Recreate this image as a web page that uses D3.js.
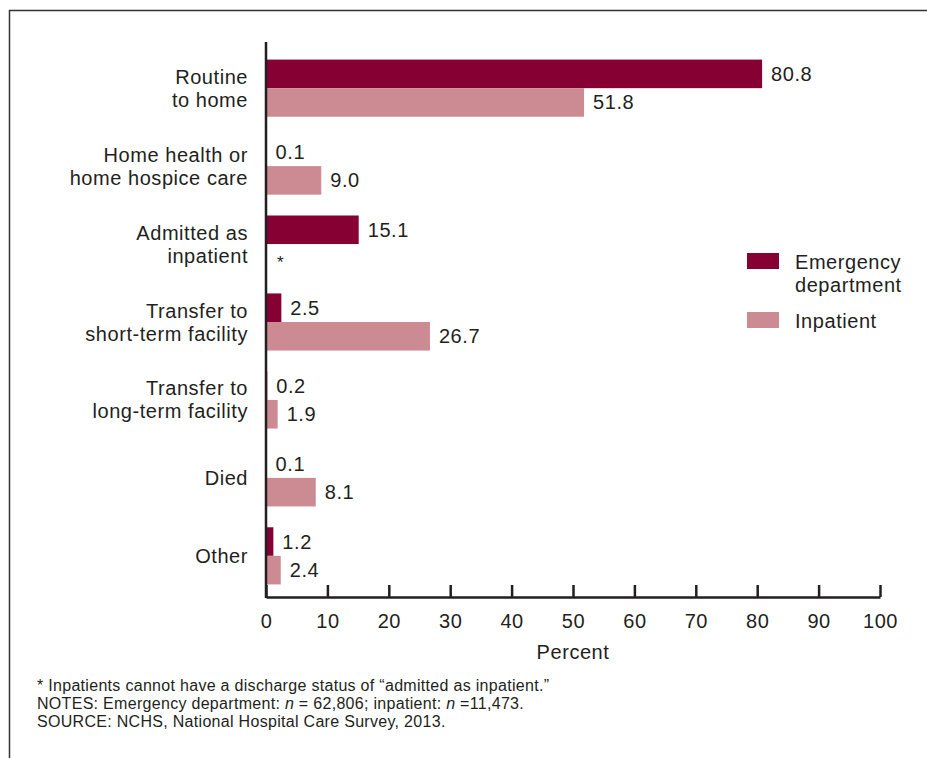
<!DOCTYPE html>
<html>
<head>
<meta charset="utf-8">
<script src="https://cdn.jsdelivr.net/npm/d3@7"></script>
<style>
  html, body { margin: 0; padding: 0; background: #fff; }
  svg { display: block; }
  text { font-family: "Liberation Sans", Arial, Helvetica, sans-serif; fill: #231f20; }
</style>
</head>
<body>
<svg id="chart" width="927" height="758"></svg>
<script>
const categories = [
  ["Routine", "to home"],
  ["Home health or", "home hospice care"],
  ["Admitted as", "inpatient"],
  ["Transfer to", "short-term facility"],
  ["Transfer to", "long-term facility"],
  ["Died"],
  ["Other"]
];
const categoryKeys = ["routine", "homehealth", "admitted", "shortterm", "longterm", "died", "other"];
const edValues = [80.8, 0.1, 15.1, 2.5, 0.2, 0.1, 1.2];
const inpatientValues = [51.8, 9.0, null, 26.7, 1.9, 8.1, 2.4];
const seriesNames = ["Emergency department", "Inpatient"];
const xTicks = [0, 10, 20, 30, 40, 50, 60, 70, 80, 90, 100];
const xTitle = "Percent";
const footnotes = [
  [{t: "* Inpatients cannot have a discharge status of \u201cadmitted as inpatient.\u201d"}],
  [{t: "NOTES: Emergency department: "}, {t: "n", i: true}, {t: " = 62,806; inpatient: "}, {t: "n", i: true}, {t: " =11,473."}],
  [{t: "SOURCE: NCHS, National Hospital Care Survey, 2013."}]
];

const colors = ["#860033", "#cc8b93"];
const ink = "#231f20";
const LS = "0.55px";

const svg = d3.select("#chart");

// frame
svg.append("path")
  .attr("d", "M9.5,1000 L9.5,10.5 L1000,10.5")
  .attr("fill", "none").attr("stroke", "#333").attr("stroke-width", 1.5);

const x = d3.scaleLinear().domain([0, 100]).range([266, 880]);
const y = d3.scaleBand().domain(categoryKeys).range([44, 600]).paddingInner(0.267).paddingOuter(0.2);
const sub = d3.scaleBand().domain([0, 1]).range([0, y.bandwidth()]);

const rows = categoryKeys.map((k, i) => ({key: k, lines: categories[i], vals: [edValues[i], inpatientValues[i]]}));

// bars
const g = svg.append("g");
rows.forEach(r => {
  r.vals.forEach((v, s) => {
    const yy = y(r.key) + sub(s);
    if (v !== null) {
      g.append("rect")
        .attr("x", x(0)).attr("y", yy)
        .attr("width", x(v) - x(0)).attr("height", sub.bandwidth())
        .attr("fill", colors[s]);
      g.append("text")
        .attr("x", x(v) + 9).attr("y", yy + sub.bandwidth() / 2)
        .attr("dy", "0.35em").attr("font-size", 20).attr("letter-spacing", LS)
        .text(d3.format(".1f")(v));
    } else {
      g.append("text")
        .attr("x", x(0) + 11).attr("y", yy + sub.bandwidth() / 2 + 4)
        .attr("dy", "0.35em").attr("font-size", 17)
        .text("*");
    }
  });
  // category label
  const cy = y(r.key) + y.bandwidth() / 2;
  const n = r.lines.length;
  const t = g.append("text").attr("text-anchor", "end").attr("font-size", 20).attr("letter-spacing", LS);
  r.lines.forEach((ln, j) => {
    t.append("tspan").attr("x", 248)
      .attr("y", cy + (j - (n - 1) / 2) * 23)
      .attr("dy", "0.35em").text(ln);
  });
});

// x axis
const xAxis = d3.axisBottom(x).tickValues(xTicks).tickSize(-12).tickSizeOuter(0).tickPadding(17).tickFormat(d3.format("d"));
const ax = svg.append("g").attr("transform", "translate(0,597)").call(xAxis);
ax.select(".domain").attr("stroke", ink).attr("stroke-width", 2.5);
ax.selectAll(".tick line").attr("stroke", ink).attr("stroke-width", 2.5);
ax.selectAll(".tick text").attr("font-size", 20).attr("fill", ink).attr("letter-spacing", LS)
  .attr("font-family", "\"Liberation Sans\", Arial, sans-serif");

// y axis line
svg.append("line").attr("x1", x(0)).attr("x2", x(0)).attr("y1", 42).attr("y2", 598)
  .attr("stroke", ink).attr("stroke-width", 2.5);

svg.append("text").attr("x", (x(0) + x(100)) / 2).attr("y", 659)
  .attr("text-anchor", "middle").attr("font-size", 20).attr("letter-spacing", LS).text(xTitle);

// legend
const lg = svg.append("g");
const legendRows = [
  {lines: ["Emergency", "department"], y: 253},
  {lines: ["Inpatient"], y: 312}
];
legendRows.forEach((lr, s) => {
  lg.append("rect").attr("x", 747).attr("y", lr.y).attr("width", 32).attr("height", 16).attr("fill", colors[s]);
  const t = lg.append("text").attr("font-size", 20).attr("letter-spacing", LS);
  lr.lines.forEach((ln, j) => {
    t.append("tspan").attr("x", 795).attr("y", lr.y + 16 + j * 23).text(ln);
  });
});

// footnotes
footnotes.forEach((parts, i) => {
  const t = svg.append("text").attr("x", 37).attr("y", 691 + i * 18)
    .attr("font-size", 16).attr("letter-spacing", "0.3px");
  parts.forEach(p => {
    const ts = t.append("tspan").text(p.t);
    if (p.i) ts.attr("font-style", "italic");
  });
});
</script>
</body>
</html>
